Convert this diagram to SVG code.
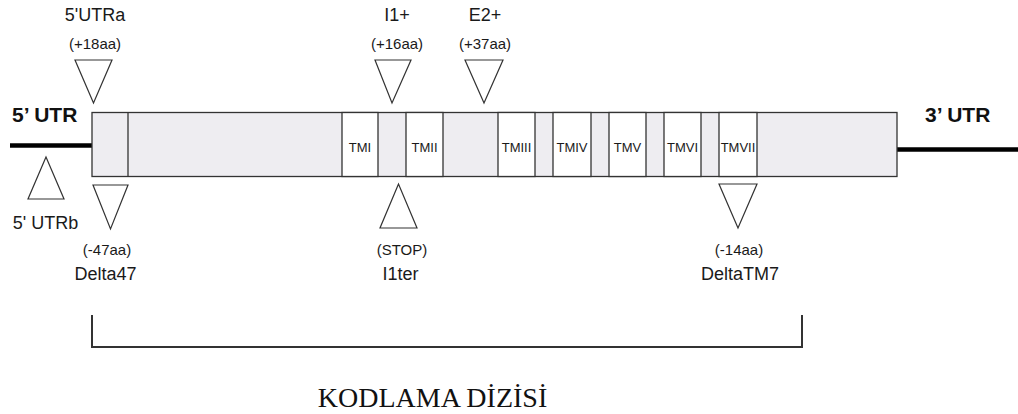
<svg xmlns="http://www.w3.org/2000/svg" width="1018" height="414" viewBox="0 0 1018 414">
  <style>
    .seg { fill: #eeedf1; stroke: #333; stroke-width: 1.3; }
    .tm { fill: #ffffff; stroke: #333; stroke-width: 1.3; }
    .tri { fill: #ffffff; stroke: #333; stroke-width: 1.2; stroke-linejoin: miter; }
    .lbl { font-family: "Liberation Sans", Arial, sans-serif; fill: #1a1a1a; text-anchor: middle; }
    .big { font-size: 18px; }
    .small { font-size: 15px; }
    .tmtxt { font-size: 13px; }
    .utr { font-family: "Liberation Sans", Arial, sans-serif; font-weight: bold; font-size: 21px; fill: #111; }
    .utrline { stroke: #000; stroke-width: 4.5; fill: none; }
    .bracket { stroke: #333; stroke-width: 2; fill: none; }
  </style>

  <!-- untranslated regions and coding-sequence bracket -->
  <g id="connectors">
    <line class="utrline" x1="10" y1="145.5" x2="92" y2="145.5"/>
    <line class="utrline" x1="897" y1="149.5" x2="1018" y2="149.5"/>
    <polyline class="bracket" points="92,315 92,347 802,347 802,315"/>
  </g>

  <!-- receptor coding region with seven transmembrane segments -->
  <g id="gene">
    <rect class="seg" x="92" y="112.5" width="805" height="64"/>
    <line class="seg" x1="128" y1="112.5" x2="128" y2="176.5"/>
    <rect class="tm" x="342" y="112.5" width="36" height="64"/>
    <rect class="tm" x="406" y="112.5" width="37" height="64"/>
    <rect class="tm" x="498" y="112.5" width="37" height="64"/>
    <rect class="tm" x="553" y="112.5" width="38" height="64"/>
    <rect class="tm" x="609" y="112.5" width="37" height="64"/>
    <rect class="tm" x="664" y="112.5" width="37" height="64"/>
    <rect class="tm" x="719" y="112.5" width="38" height="64"/>
    <g class="lbl tmtxt">
      <text x="360" y="151.5">TMI</text>
      <text x="424.5" y="151.5">TMII</text>
      <text x="516.5" y="151.5">TMIII</text>
      <text x="572" y="151.5">TMIV</text>
      <text x="627.5" y="151.5">TMV</text>
      <text x="682.5" y="151.5">TMVI</text>
      <text x="738" y="151.5">TMVII</text>
    </g>
  </g>

  <g id="utr5">
    <text class="utr" x="12" y="122">5’ UTR</text>
  </g>
  <g id="utr3">
    <text class="utr" x="925" y="122">3’ UTR</text>
  </g>

  <g id="utr5a">
    <text class="lbl big" x="95" y="21">5'UTRa</text>
    <text class="lbl small" x="95" y="49">(+18aa)</text>
    <polygon class="tri" points="75,60 112,60 93.5,103"/>
  </g>

  <g id="utr5b">
    <polygon class="tri" points="46,157 28,199 64,199"/>
    <text class="lbl big" x="45.5" y="229">5' UTRb</text>
  </g>

  <g id="delta47">
    <polygon class="tri" points="93,185 128,185 110.5,229"/>
    <text class="lbl small" x="107" y="255">(-47aa)</text>
    <text class="lbl big" x="105.5" y="280">Delta47</text>
  </g>

  <g id="i1plus">
    <text class="lbl big" x="397" y="21">I1+</text>
    <text class="lbl small" x="397" y="49">(+16aa)</text>
    <polygon class="tri" points="375,60 411,60 392,103"/>
  </g>

  <g id="e2plus">
    <text class="lbl big" x="485" y="21">E2+</text>
    <text class="lbl small" x="485" y="49">(+37aa)</text>
    <polygon class="tri" points="465,60 503,60 484,103"/>
  </g>

  <g id="i1ter">
    <polygon class="tri" points="398.5,184 380,228 417,228"/>
    <text class="lbl small" x="402" y="255">(STOP)</text>
    <text class="lbl big" x="400.5" y="280">I1ter</text>
  </g>

  <g id="deltatm7">
    <polygon class="tri" points="719,184 757,184 738,228"/>
    <text class="lbl small" x="739" y="255">(-14aa)</text>
    <text class="lbl big" x="740" y="280">DeltaTM7</text>
  </g>

  <g id="coding-label">
    <text x="432.5" y="406.5" text-anchor="middle" font-family="'Liberation Serif', 'Times New Roman', serif" font-size="28" fill="#111">KODLAMA DİZİSİ</text>
  </g>
</svg>
